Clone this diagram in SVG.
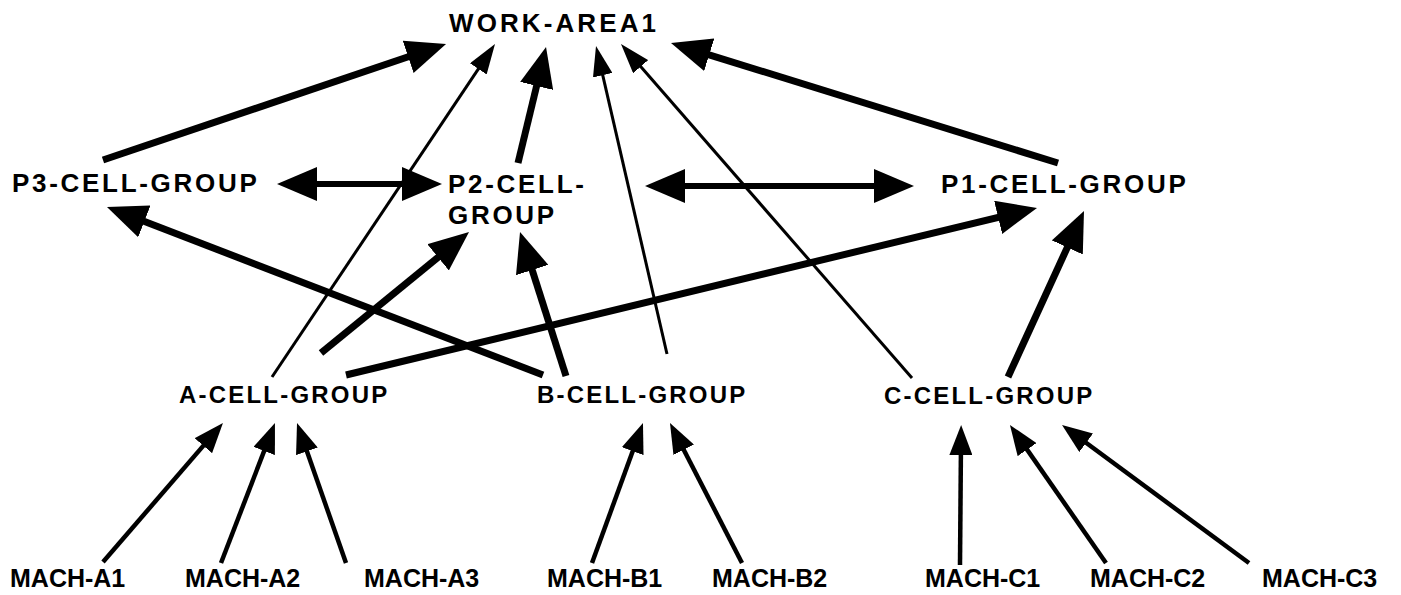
<svg xmlns="http://www.w3.org/2000/svg" width="1401" height="595" viewBox="0 0 1401 595">
<style>
.t{font-family:"Liberation Sans",Arial,Helvetica,sans-serif;font-weight:bold;fill:#000}
.p{font-size:26px;letter-spacing:2.7px}
.c{font-size:24px;letter-spacing:2.2px}
.m{font-size:25px}
.thick{stroke:#000;stroke-width:7;fill:none;marker-end:url(#big)}
.dbl{stroke:#000;stroke-width:6;fill:none;marker-end:url(#big);marker-start:url(#bigs)}
.thin{stroke:#000;stroke-width:3;fill:none;marker-end:url(#sm)}
.mid{stroke:#000;stroke-width:4.5;fill:none;marker-end:url(#md)}
</style>
<defs>
<marker id="big" markerUnits="userSpaceOnUse" markerWidth="40" markerHeight="34" refX="22" refY="17" orient="auto" viewBox="0 0 40 34"><path d="M0,0 L40,17 L0,34 Z" fill="#000"/></marker>
<marker id="bigs" markerUnits="userSpaceOnUse" markerWidth="40" markerHeight="34" refX="22" refY="17" orient="auto-start-reverse" viewBox="0 0 40 34"><path d="M0,0 L40,17 L0,34 Z" fill="#000"/></marker>
<marker id="sm" markerUnits="userSpaceOnUse" markerWidth="30" markerHeight="20" refX="14" refY="10" orient="auto" viewBox="0 0 30 20"><path d="M0,0 L30,10 L0,20 Z" fill="#000"/></marker>
<marker id="md" markerUnits="userSpaceOnUse" markerWidth="30" markerHeight="23" refX="14" refY="11.5" orient="auto" viewBox="0 0 30 23"><path d="M0,0 L30,11.5 L0,23 Z" fill="#000"/></marker>
</defs>
<rect width="1401" height="595" fill="#fff"/>
<g id="connectors">
<line class="thick" x1="103" y1="160" x2="429" y2="49.8"/>
<line class="thick" x1="518" y1="163" x2="541.8" y2="64.5"/>
<line class="thick" x1="1058" y1="163" x2="688.2" y2="48.3"/>
<line class="dbl" x1="295" y1="184" x2="424" y2="184"/>
<line class="dbl" x1="663" y1="186" x2="896" y2="186"/>
<line class="thick" x1="543" y1="375" x2="123.8" y2="213.5"/>
<line class="thick" x1="321" y1="353" x2="455.1" y2="243.4"/>
<line class="thick" x1="346" y1="375" x2="1019.5" y2="212.2"/>
<line class="thick" x1="566" y1="376" x2="525.5" y2="249.1"/>
<line class="thick" x1="1008" y1="377" x2="1076.5" y2="227.4"/>
<line class="thin" x1="272" y1="377" x2="486.1" y2="57.3"/>
<line class="thin" x1="667" y1="354" x2="599.6" y2="61.6"/>
<line class="thin" x1="912" y1="378" x2="631.5" y2="56.1"/>
<line class="mid" x1="103" y1="562" x2="212.5" y2="435.1"/>
<line class="mid" x1="221" y1="563" x2="269.2" y2="437.9"/>
<line class="mid" x1="346" y1="563" x2="302.3" y2="438.1"/>
<line class="mid" x1="592" y1="563" x2="637.5" y2="438"/>
<line class="mid" x1="742" y1="563" x2="677.3" y2="437.2"/>
<line class="mid" x1="960" y1="565" x2="961" y2="441"/>
<line class="mid" x1="1106" y1="563" x2="1019.1" y2="438.1"/>
<line class="mid" x1="1249" y1="563" x2="1074.9" y2="434.5"/>
</g>
<g id="work-area1"><text class="t p" x="449" y="32" style="letter-spacing:3.1px">WORK-AREA1</text></g>
<g id="p3-cell-group"><text class="t p" x="12" y="192">P3-CELL-GROUP</text></g>
<g id="p2-cell-group"><text class="t p" x="448" y="193">P2-CELL-</text><text class="t p" x="448" y="224">GROUP</text></g>
<g id="p1-cell-group"><text class="t p" x="941" y="193">P1-CELL-GROUP</text></g>
<g id="a-cell-group"><text class="t c" x="179" y="403">A-CELL-GROUP</text></g>
<g id="b-cell-group"><text class="t c" x="537" y="403">B-CELL-GROUP</text></g>
<g id="c-cell-group"><text class="t c" x="884" y="404">C-CELL-GROUP</text></g>
<g id="mach-a1"><text class="t m" x="10" y="587">MACH-A1</text></g>
<g id="mach-a2"><text class="t m" x="185" y="587">MACH-A2</text></g>
<g id="mach-a3"><text class="t m" x="364" y="587">MACH-A3</text></g>
<g id="mach-b1"><text class="t m" x="547" y="587">MACH-B1</text></g>
<g id="mach-b2"><text class="t m" x="712" y="587">MACH-B2</text></g>
<g id="mach-c1"><text class="t m" x="925" y="587">MACH-C1</text></g>
<g id="mach-c2"><text class="t m" x="1090" y="587">MACH-C2</text></g>
<g id="mach-c3"><text class="t m" x="1262" y="587">MACH-C3</text></g>
</svg>
